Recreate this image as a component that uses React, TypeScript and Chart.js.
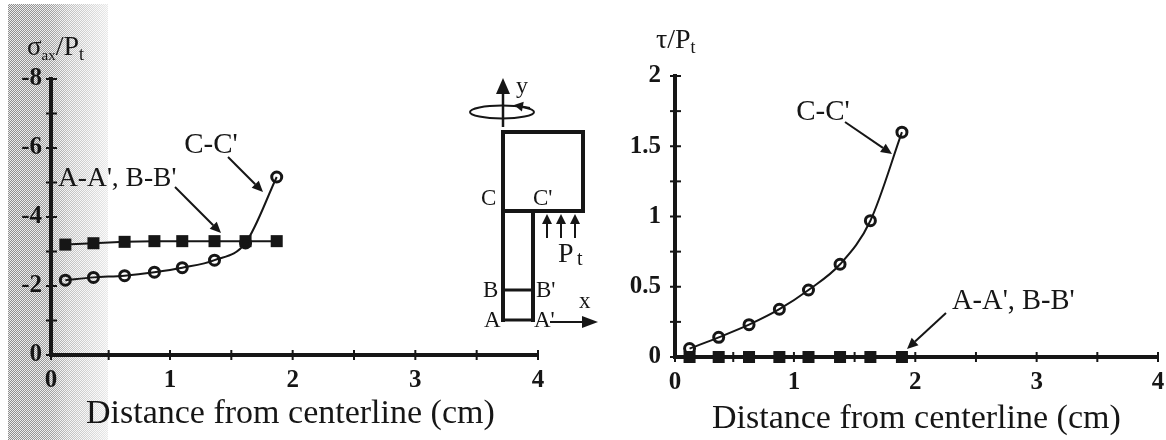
import React, { useEffect, useRef } from "react";
import { Chart, registerables } from "chart.js";

Chart.register(...registerables);

// ---- data ----
const leftX = [0.147, 0.376, 0.63, 0.873, 1.1, 1.363, 1.616, 1.87];
const leftSquares = [-3.2, -3.24, -3.28, -3.3, -3.3, -3.3, -3.3, -3.3];
const leftCircles = [-2.17, -2.25, -2.3, -2.4, -2.53, -2.75, -3.25, -5.16];
const rightX = [0.14, 0.38, 0.63, 0.88, 1.12, 1.38, 1.63, 1.89];
const rightSquares = [0, 0, 0, 0, 0, 0, 0, 0];
const rightCircles = [0.06, 0.14, 0.23, 0.34, 0.477, 0.66, 0.97, 1.6];

const leftXTicks = [0.03, 0.5, 1, 1.5, 2, 2.5, 3, 3.5, 4];
const rightXTicks = [0.02, 0.5, 1, 1.5, 2, 2.5, 3, 3.5, 4];
const leftYTicks = [-8, -7, -6, -5, -4, -3, -2, -1, 0];
const rightYTicks = [0, 0.25, 0.5, 0.75, 1, 1.25, 1.5, 1.75, 2];
const squaresName = "A-A', B-B'";
const circlesName = "C-C'";
const xTitle = "Distance from centerline (cm)";

const SERIF = '"Liberation Serif", serif';
const INK = "#161616";

type Ctx = CanvasRenderingContext2D;

function text(c: Ctx, s: string, x: number, y: number, size: number, align: CanvasTextAlign = "left", font = SERIF) {
  c.font = `${size}px ${font}`;
  c.textAlign = align;
  c.textBaseline = "alphabetic";
  c.fillStyle = INK;
  c.fillText(s, x, y);
  return c.measureText(s).width;
}

function arrow(c: Ctx, x1: number, y1: number, x2: number, y2: number, lw = 2, head = 11, halfW = 5) {
  const a = Math.atan2(y2 - y1, x2 - x1);
  const bx = x2 - Math.cos(a) * head;
  const by = y2 - Math.sin(a) * head;
  c.strokeStyle = INK;
  c.fillStyle = INK;
  c.lineWidth = lw;
  c.beginPath();
  c.moveTo(x1, y1);
  c.lineTo(bx, by);
  c.stroke();
  c.beginPath();
  c.moveTo(x2, y2);
  c.lineTo(bx - Math.sin(a) * halfW, by + Math.cos(a) * halfW);
  c.lineTo(bx + Math.sin(a) * halfW, by - Math.cos(a) * halfW);
  c.closePath();
  c.fill();
}

function line(c: Ctx, pts: number[][], lw: number) {
  c.strokeStyle = INK;
  c.lineWidth = lw;
  c.lineCap = "square";
  c.beginPath();
  pts.forEach(([x, y], i) => (i ? c.lineTo(x, y) : c.moveTo(x, y)));
  c.stroke();
  c.lineCap = "butt";
}

// tick marks that cross the axis lines
const crossTicks = {
  id: "crossTicks",
  afterDatasetsDraw(chart: any) {
    const c: Ctx = chart.ctx;
    const { x, y } = chart.scales;
    c.save();
    c.strokeStyle = INK;
    c.lineWidth = 2;
    x.ticks.forEach((t: any) => {
      const p = x.getPixelForValue(t.value);
      c.beginPath();
      c.moveTo(p, y.bottom - 5);
      c.lineTo(p, y.bottom + 5);
      c.stroke();
    });
    y.ticks.forEach((t: any) => {
      const p = y.getPixelForValue(t.value);
      c.beginPath();
      c.moveTo(x.left - 5, p);
      c.lineTo(x.left + 6, p);
      c.stroke();
    });
    c.restore();
  },
};

// left chart: annotations and the specimen sketch
const leftNotes = {
  id: "leftNotes",
  afterDraw(chart: any) {
    const c: Ctx = chart.ctx;
    c.save();
    // y title
    let w = text(c, "σ", 27, 55, 27);
    let px = 27 + w;
    w = text(c, "ax", px, 60, 15);
    px += w;
    w = text(c, "/P", px, 55, 28);
    px += w;
    text(c, "t", px, 60, 18);

    text(c, xTitle, 86, 423, 34);
    text(c, circlesName, 211, 153, 29, "center");
    arrow(c, 228, 157, 263, 192);
    text(c, squaresName, 58, 186, 27.5);
    arrow(c, 175, 187, 221, 233);

    // sketch
    line(c, [[503, 132], [583, 132], [583, 211], [503, 211], [503, 132]], 4);
    line(c, [[503, 211], [503, 320]], 4);
    line(c, [[533, 211], [533, 320]], 4);
    line(c, [[503, 290], [533, 290]], 3);
    line(c, [[503, 320], [533, 320]], 3);
    arrow(c, 503, 127, 503, 78, 2.5, 16, 7);
    c.strokeStyle = INK;
    c.lineWidth = 2;
    c.beginPath();
    c.ellipse(502, 112, 32, 6.5, 0, 0, Math.PI * 2);
    c.stroke();
    arrow(c, 530, 108, 514, 105, 2, 9, 5);
    text(c, "y", 516, 93, 24);
    text(c, "C", 481, 205, 23);
    text(c, "C'", 533, 205, 23);
    text(c, "B", 483, 297, 23);
    text(c, "B'", 536, 297, 23);
    text(c, "A", 484, 327, 23);
    text(c, "A'", 534, 327, 23);
    [547, 561, 575].forEach((x) => arrow(c, x, 238, x, 214, 2, 10, 5));
    text(c, "P", 558, 262, 28);
    text(c, "t", 577, 265, 20);
    arrow(c, 550, 322, 598, 322, 2, 16, 6);
    text(c, "x", 579, 308, 23);
    c.restore();
  },
};

const rightNotes = {
  id: "rightNotes",
  afterDraw(chart: any) {
    const c: Ctx = chart.ctx;
    const o = 610; // canvas offset on the page
    c.save();
    let w = text(c, "τ/P", 656 - o, 48, 28);
    text(c, "t", 656 - o + w, 53, 18);
    text(c, xTitle, 712 - o, 428, 34);
    text(c, circlesName, 823 - o, 120, 29, "center");
    arrow(c, 845 - o, 122, 892 - o, 154);
    text(c, squaresName, 952 - o, 309, 28.5);
    arrow(c, 946 - o, 313, 907 - o, 349);
    c.restore();
  },
};

function makeChart(
  canvas: HTMLCanvasElement,
  xs: number[],
  squares: number[],
  circles: number[],
  xTicks: number[],
  yTicks: number[],
  cfg: {
    yMin: number;
    yMax: number;
    reverse: boolean;
    axisLeft: number;
    axisBottom: number;
    top: number;
    right: number;
    squareRadius: number;
    yLabel: (v: number) => string;
    yPad: number;
    notes: any;
  }
) {
  const pts = (v: number[]) => v.map((y, i) => ({ x: xs[i], y }));
  const tickFont = { family: SERIF, size: 25, weight: "bold" as const };
  return new Chart(canvas, {
    type: "line",
    data: {
      datasets: [
        {
          label: circlesName,
          data: pts(circles),
          borderColor: INK,
          borderWidth: 2,
          backgroundColor: "rgba(255,255,255,0)",
          pointStyle: "circle",
          pointRadius: 5,
          pointBorderWidth: 3,
          pointBorderColor: INK,
          cubicInterpolationMode: "monotone",
          clip: false,
        },
        {
          label: squaresName,
          data: pts(squares),
          borderColor: INK,
          borderWidth: 2,
          backgroundColor: INK,
          pointStyle: "rect",
          pointRadius: cfg.squareRadius,
          pointBorderWidth: 0,
          pointBackgroundColor: INK,
          clip: false,
        },
      ] as any,
    },
    options: {
      responsive: false,
      animation: false,
      layout: { padding: { left: 0, top: cfg.top, right: cfg.right, bottom: 0 } },
      plugins: { legend: { display: false }, tooltip: { enabled: false } },
      scales: {
        x: {
          type: "linear",
          min: xTicks[0],
          max: xTicks[xTicks.length - 1],
          grid: { drawOnChartArea: false, drawTicks: false },
          border: { color: INK, width: 4 },
          afterBuildTicks: (s: any) => {
            s.ticks = xTicks.map((value) => ({ value }));
          },
          afterFit: (s: any) => {
            s.height = 440 - cfg.axisBottom;
          },
          ticks: {
            autoSkip: false,
            maxRotation: 0,
            padding: 11,
            color: INK,
            font: tickFont,
            callback: (v: any) => (v < 0.1 ? "0" : Number.isInteger(v) ? String(v) : ""),
          },
        },
        y: {
          type: "linear",
          min: cfg.yMin,
          max: cfg.yMax,
          reverse: cfg.reverse,
          grid: { drawOnChartArea: false, drawTicks: false },
          border: { color: INK, width: 4 },
          afterBuildTicks: (s: any) => {
            s.ticks = yTicks.map((value) => ({ value }));
          },
          afterFit: (s: any) => {
            s.width = cfg.axisLeft;
          },
          ticks: {
            autoSkip: false,
            padding: cfg.yPad,
            color: INK,
            font: tickFont,
            callback: (v: any) => cfg.yLabel(Number(v)),
          },
        },
      },
    } as any,
    plugins: [crossTicks, cfg.notes],
  });
}

export default function App() {
  const leftRef = useRef<HTMLCanvasElement>(null);
  const rightRef = useRef<HTMLCanvasElement>(null);

  useEffect(() => {
    const a = makeChart(leftRef.current!, leftX, leftSquares, leftCircles, leftXTicks, leftYTicks, {
      yMin: -8,
      yMax: 0,
      reverse: true,
      axisLeft: 51,
      axisBottom: 355,
      top: 79,
      right: 72,
      squareRadius: 8.5,
      yLabel: (v) => (v % 2 === 0 ? String(v) : ""),
      yPad: 9,
      notes: leftNotes,
    });
    const b = makeChart(rightRef.current!, rightX, rightSquares, rightCircles, rightXTicks, rightYTicks, {
      yMin: 0,
      yMax: 2,
      reverse: false,
      axisLeft: 65,
      axisBottom: 357,
      top: 76,
      right: 22,
      squareRadius: 8.5,
      yLabel: (v) => (v * 2 === Math.round(v * 2) ? String(v) : ""),
      yPad: 14,
      notes: rightNotes,
    });
    return () => {
      a.destroy();
      b.destroy();
    };
  }, []);

  return (
    <div style={{ position: "fixed", left: 0, top: 0, width: 1166, height: 440, background: "#fff", overflow: "hidden" }}>
      <div
        style={{
          position: "absolute",
          left: 8,
          top: 4,
          width: 100,
          height: 436,
          backgroundImage:
            "linear-gradient(90deg, rgba(255,255,255,0.25) 0%, rgba(255,255,255,0.35) 40%, rgba(255,255,255,0.6) 62%, rgba(255,255,255,0.85) 100%), repeating-conic-gradient(#666 0 25%, #e6e6e6 0 50%)",
          backgroundSize: "100% 100%, 2px 2px",
        }}
      />
      <canvas ref={leftRef} width={610} height={440} style={{ position: "absolute", left: 0, top: 0, width: 610, height: 440 }} />
      <canvas ref={rightRef} width={570} height={440} style={{ position: "absolute", left: 610, top: 0, width: 570, height: 440 }} />
    </div>
  );
}
